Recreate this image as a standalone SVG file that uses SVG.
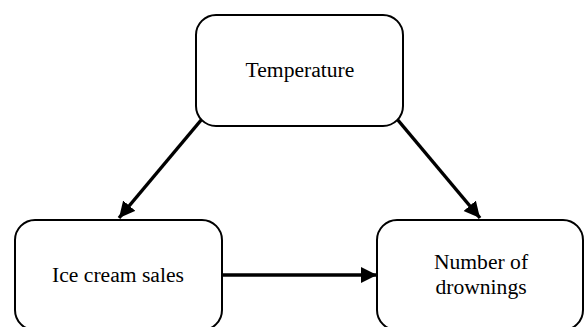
<svg xmlns="http://www.w3.org/2000/svg" width="584" height="327" viewBox="0 0 584 327">
<style>
.box{fill:#fff;stroke:#000;stroke-width:2}
.lbl{font-family:"Liberation Serif","Times New Roman",serif;font-size:21.6px;fill:#000;text-anchor:middle}
.edge{stroke:#000;stroke-width:3.5;fill:none;marker-end:url(#ah)}
</style>
<defs>
<marker id="ah" markerUnits="userSpaceOnUse" markerWidth="17" markerHeight="17" refX="16" refY="8" orient="auto">
<path d="M0,0 L16,8 L0,16 Z" fill="#000"/>
</marker>
</defs>
<rect width="584" height="327" fill="#fff"/>
<g id="connectors">
<line class="edge" x1="202" y1="119" x2="119" y2="218"/>
<line class="edge" x1="397" y1="119" x2="480" y2="218"/>
<line class="edge" x1="222" y1="275" x2="377" y2="275"/>
</g>
<g id="temperature">
<rect class="box" x="196" y="15" width="207" height="111" rx="20" ry="20"/>
<text class="lbl" x="300" y="77">Temperature</text>
</g>
<g id="ice_cream_sales">
<rect class="box" x="15" y="220" width="207" height="110" rx="20" ry="20"/>
<text class="lbl" x="118" y="282">Ice cream sales</text>
</g>
<g id="number_of_drownings">
<rect class="box" x="377" y="220" width="206" height="110" rx="20" ry="20"/>
<text class="lbl" x="481" y="269">Number of</text>
<text class="lbl" x="481" y="294">drownings</text>
</g>
</svg>
